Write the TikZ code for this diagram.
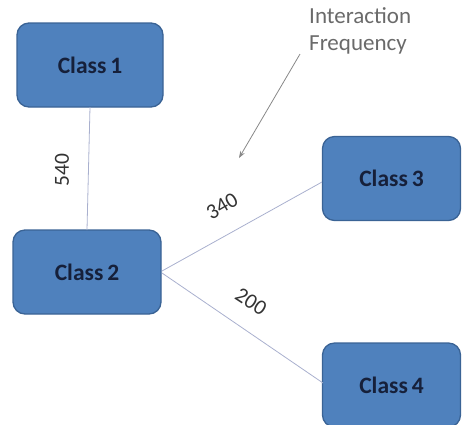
\documentclass[tikz,border=0pt]{standalone}
\usepackage{fontspec}
\setmainfont{Carlito}
\usetikzlibrary{arrows.meta}
\definecolor{boxfill}{HTML}{4F81BD}
\definecolor{boxline}{HTML}{3A6395}
\definecolor{boxtext}{HTML}{16203A}
\definecolor{linkcol}{HTML}{A9B0CE}
\definecolor{notecol}{HTML}{6A6A6A}
\tikzset{
  classbox/.style={draw=boxline, line width=1.3pt, fill=boxfill, rounded corners=12pt,
    minimum width=146pt, minimum height=84pt, inner sep=0pt,
    font=\fontsize{23.5}{26}\selectfont\bfseries, text=boxtext},
  link/.style={draw=linkcol, line width=0.8pt},
  numlabel/.style={font=\fontsize{21.5}{24}\selectfont, text=black!80, inner sep=0pt},
  notetext/.style={font=\fontsize{23}{27}\selectfont, text=notecol, align=left, inner sep=0pt},
  notearrow/.style={draw=notecol!80, line width=0.8pt, -{Stealth[length=7pt,width=5pt]}}
}
\begin{document}
\begin{tikzpicture}[x=1pt,y=-1pt]
\useasboundingbox (0,0) rectangle (462,424);
\clip (0,0) rectangle (462,424);
\node[classbox] (c1) at (90,65) {Class\,1};
\node[classbox, minimum width=148pt] (c2) at (87,272) {Class\,2};
\node[classbox, minimum width=138pt] (c3) at (391.5,178.5) {Class\,3};
\node[classbox, minimum width=138pt] (c4) at (391.5,385) {Class\,4};
\coordinate (c1b) at (90,107);
\coordinate (c2t) at (87,230);
\coordinate (c2r1) at (162,271);
\coordinate (c2r2) at (162,273);
\coordinate (c3l) at (322,182);
\coordinate (c4l) at (323,383);
\draw[link] (c1b) -- (c2t);
\draw[link] (c2r1) -- (c3l);
\draw[link] (c2r2) -- (c4l);
\node[numlabel, rotate=90] (l540) at (62,170) {540};
\node[numlabel, rotate=30] (l340) at (222,206) {340};
\node[numlabel, rotate=-33] (l200) at (251,302) {200};
\node[notetext, anchor=north west] (note) at (309,7) {Interaction\\Frequency};
\coordinate (arrs) at (300,54);
\coordinate (arre) at (239,158);
\draw[notearrow] (arrs) -- (arre);
\end{tikzpicture}
\end{document}
